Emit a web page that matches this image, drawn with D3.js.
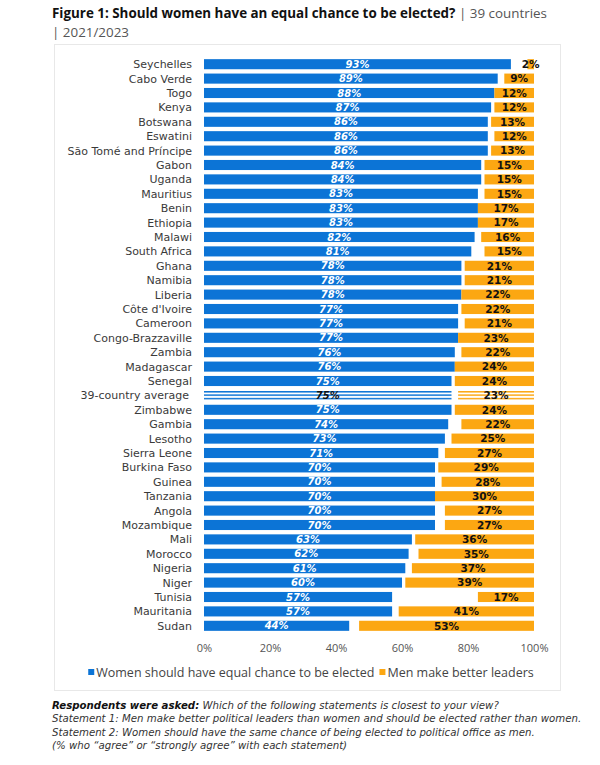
<!DOCTYPE html>
<html>
<head>
<meta charset="utf-8">
<script src="https://cdn.jsdelivr.net/npm/d3@7"></script>
<style>
  body { margin: 0; background: #fff; }
  svg { font-family: "Open Sans", "DejaVu Sans", sans-serif; }
</style>
</head>
<body>
<div id="chart"></div>
<script>
const countries = [
  "Seychelles", "Cabo Verde", "Togo", "Kenya", "Botswana", "Eswatini",
  "São Tomé and Príncipe", "Gabon", "Uganda", "Mauritius", "Benin", "Ethiopia",
  "Malawi", "South Africa", "Ghana", "Namibia", "Liberia", "Côte d'Ivoire",
  "Cameroon", "Congo-Brazzaville", "Zambia", "Madagascar", "Senegal",
  "39-country average", "Zimbabwe", "Gambia", "Lesotho", "Sierra Leone",
  "Burkina Faso", "Guinea", "Tanzania", "Angola", "Mozambique", "Mali",
  "Morocco", "Nigeria", "Niger", "Tunisia", "Mauritania", "Sudan"
];
const womenEqual = [93, 89, 88, 87, 86, 86, 86, 84, 84, 83, 83, 83, 82, 81, 78, 78, 78, 77,
  77, 77, 76, 76, 75, 75, 75, 74, 73, 71, 70, 70, 70, 70, 70, 63, 62, 61, 60, 57, 57, 44];
const menBetter = [2, 9, 12, 12, 13, 12, 13, 15, 15, 15, 17, 17, 16, 15, 21, 21, 22, 22,
  21, 23, 22, 24, 24, 23, 24, 22, 25, 27, 29, 28, 30, 27, 27, 36, 35, 37, 39, 17, 41, 53];
const xTicks = [0, 20, 40, 60, 80, 100];
const seriesNames = ["Women should have equal chance to be elected", "Men make better leaders"];
const averageLabel = "39-country average";

const blue = "#0c74d6", orange = "#fca712";
const W = 600, H = 765;

const svg = d3.select("#chart").append("svg")
  .attr("width", W).attr("height", H);

const defs = svg.append("defs");
function stripes(id, color) {
  const p = defs.append("pattern").attr("id", id)
    .attr("patternUnits", "userSpaceOnUse").attr("width", 6).attr("height", 3.4);
  p.append("rect").attr("width", 6).attr("height", 3.4).attr("fill", "#fff");
  p.append("rect").attr("y", 0).attr("width", 6).attr("height", 1.5).attr("fill", color);
}
stripes("stripeBlue", blue);
stripes("stripeOrange", orange);

// title
const title = svg.append("text").attr("x", 52).attr("y", 18).attr("font-size", 13.4);
title.append("tspan").attr("font-weight", "bold").attr("fill", "#111")
  .text("Figure 1: Should women have an equal chance to be elected?");
title.append("tspan").attr("fill", "#555").text(" | 39 countries");
svg.append("text").attr("x", 52).attr("y", 37).attr("font-size", 13.4).attr("fill", "#555")
  .text("| 2021/2023");

// frame
svg.append("rect").attr("x", 54.5).attr("y", 44.5).attr("width", 506).attr("height", 646)
  .attr("fill", "none").attr("stroke", "#e8e8e8");

const x = d3.scaleLinear().domain([0, 100]).range([204, 534]);
const y = d3.scaleBand().domain(countries).range([57, 633]).paddingInner(0.3).paddingOuter(0.15);

const rows = countries.map((c, i) => ({ c, w: womenEqual[i], m: menBetter[i] }));

const g = svg.append("g");
const row = g.selectAll("g.row").data(rows).join("g").attr("class", "row");

row.append("rect")
  .attr("x", x(0)).attr("y", d => y(d.c))
  .attr("width", d => x(d.w) - x(0)).attr("height", y.bandwidth())
  .attr("fill", d => d.c === averageLabel ? "url(#stripeBlue)" : blue);

row.append("rect")
  .attr("x", d => x(100 - d.m)).attr("y", d => y(d.c))
  .attr("width", d => x(100) - x(100 - d.m)).attr("height", y.bandwidth())
  .attr("fill", d => d.c === averageLabel ? "url(#stripeOrange)" : orange);

row.append("text")
  .attr("x", d => (x(0) + x(d.w)) / 2).attr("y", d => y(d.c) + y.bandwidth() / 2)
  .attr("dy", "0.36em").attr("text-anchor", "middle")
  .attr("font-family", "'DejaVu Sans', sans-serif")
  .attr("font-size", 10).attr("font-weight", "bold").attr("font-style", "italic")
  .attr("fill", d => d.c === averageLabel ? "#111" : "#fff")
  .text(d => d.w + "%");

row.append("text")
  .attr("x", d => (x(100 - d.m) + x(100)) / 2).attr("y", d => y(d.c) + y.bandwidth() / 2)
  .attr("dy", "0.36em").attr("text-anchor", "middle")
  .attr("font-family", "'DejaVu Sans', sans-serif")
  .attr("font-size", 10.5).attr("font-weight", "bold").attr("fill", "#111")
  .text(d => d.m + "%");

// category labels
row.append("text")
  .attr("x", d => d.c === averageLabel ? 189 : 192)
  .attr("y", d => y(d.c) + y.bandwidth() / 2)
  .attr("dy", "0.36em").attr("text-anchor", "end")
  .attr("font-family", "'DejaVu Sans', sans-serif")
  .attr("font-size", 11).attr("fill", "#3a3a3a")
  .text(d => d.c);

// x axis
const axis = svg.append("g").attr("transform", "translate(0,638)")
  .call(d3.axisBottom(x).tickValues(xTicks).tickFormat(d => d + "%").tickSize(0).tickPadding(6));
axis.select(".domain").remove();
axis.selectAll("text").attr("font-size", 11).attr("fill", "#555")
  .attr("font-family", "'Open Sans', sans-serif");

// legend, centred under the plot
const legend = svg.append("g").attr("transform", "translate(0,672)");
let lx = 0;
[blue, orange].forEach((col, i) => {
  legend.append("rect").attr("x", lx).attr("y", -3).attr("width", 6).attr("height", 6).attr("fill", col);
  const t = legend.append("text").attr("x", lx + 8).attr("y", 0).attr("dy", "0.36em")
    .attr("font-size", 12.5).attr("fill", "#444").text(seriesNames[i]);
  lx += 8 + t.node().getComputedTextLength() + 5;
});
legend.attr("transform", `translate(${311 - (lx - 5) / 2},672)`);

// footnote
const notes = [
  [["Respondents were asked:", true], [" Which of the following statements is closest to your view?", false]],
  [["Statement 1: Men make better political leaders than women and should be elected rather than women.", false]],
  [["Statement 2: Women should have the same chance of being elected to political office as men.", false]],
  [["(% who \u201cagree\u201d or \u201cstrongly agree\u201d with each statement)", false]]
];
notes.forEach((parts, i) => {
  const t = svg.append("text").attr("x", 52).attr("y", 709 + i * 13.3)
    .attr("font-family", "'DejaVu Sans', sans-serif")
    .attr("font-size", 10.2).attr("font-style", "italic").attr("fill", "#333");
  parts.forEach(([s, b]) => t.append("tspan").attr("font-weight", b ? "bold" : "normal")
    .attr("fill", b ? "#111" : "#333").text(s));
});
</script>
</body>
</html>
